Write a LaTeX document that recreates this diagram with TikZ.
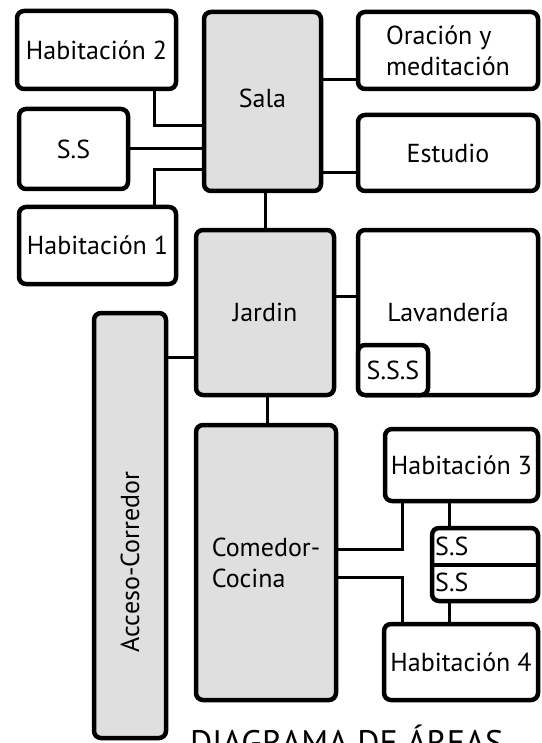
\documentclass[tikz,border=0pt]{standalone}
\usepackage{fontspec}
\setmainfont{PT Sans}
\usepackage{tikz}

\begin{document}
\begin{tikzpicture}[
  x=1pt, y=-1pt,
  room/.style={draw, line width=4.5pt, rounded corners=7pt, fill=white, outer sep=0pt, inner sep=0pt, align=center, font=\fontsize{26}{31}\selectfont},
  zone/.style={room, fill=gray!25},
  tag/.style={inner sep=1pt, font=\fontsize{26}{31}\selectfont},
  link/.style={line width=3pt}
]
\useasboundingbox (0,0) rectangle (541,743);

% --- Zona de estar (arriba) ---
\node[zone, minimum width=117pt, minimum height=179pt] (sala) at (262.5,101.5) {\raisebox{7pt}{Sala}};
\node[room, minimum width=159pt, minimum height=78pt] (hab2) at (96.5,50) {Habitación 2};
\node[room, minimum width=109pt, minimum height=80pt] (ssa) at (73.5,149) {S.S};
\node[room, minimum width=157pt, minimum height=77pt] (hab1) at (97.5,245.5) {Habitación 1};
\node[room, minimum width=180pt, minimum height=77pt, align=left] (orac) at (448,50.5) {Oración y\\meditación};
\node[room, minimum width=180pt, minimum height=76pt] (estu) at (448,153) {Estudio};

% --- Jardin y lavanderia ---
\node[zone, minimum width=138pt, minimum height=165pt] (jard) at (265,312.5) {Jardin};
\node[room, minimum width=180pt, minimum height=165pt] (lav) at (448,312.5) {Lavandería};
\node[room, minimum width=70pt, minimum height=50pt] (sss) at (393,370) {S.S.S};

% --- Acceso, comedor y habitaciones ---
\node[zone, minimum width=72pt, minimum height=425pt] (acc) at (130,525.5) {};
\node[tag, rotate=90] (acctxt) at (130,562) {Acceso-Corredor};
\node[zone, minimum width=140pt, minimum height=275pt, align=left] (come) at (266,562.5) {Comedor-\\Cocina};
\node[room, minimum width=153pt, minimum height=72pt] (hab3) at (461.5,465) {Habitación 3};
\node[room, minimum width=106pt, minimum height=73pt] (ssb) at (485,564.5) {};
\node[room, minimum width=154pt, minimum height=76pt] (hab4) at (461,662) {Habitación 4};
\draw[line width=4pt] (ssb.west) -- (ssb.east);
\node[tag, anchor=west] (ssb1) at ([xshift=2pt, yshift=18pt]ssb.west) {S.S};
\node[tag, anchor=west] (ssb2) at ([xshift=2pt, yshift=-18pt]ssb.west) {S.S};

% --- Conexiones ---
\draw[link] ([xshift=-22pt]hab2.south east) |- ([yshift=-24.5pt]sala.west);
\draw[link] (ssa.east) -- (ssa.east -| sala.west);
\draw[link] ([xshift=-22pt]hab1.north east) |- ([yshift=-68.5pt]sala.west);
\draw[link] ([yshift=-29.5pt]orac.west) -- ([yshift=-29.5pt]orac.west -| sala.east);
\draw[link] ([yshift=-20pt]estu.west) -- ([yshift=-20pt]estu.west -| sala.east);
\draw[link] (jard.north |- sala.south) -- (jard.north);
\draw[link] ([yshift=16.5pt]lav.west) -- ([yshift=16.5pt]lav.west -| jard.east);
\draw[link] ([yshift=-44.5pt]jard.west) -- ([yshift=-44.5pt]jard.west -| acc.east);
\draw[link] ([xshift=2pt]jard.south) -- ([xshift=2pt]jard.south |- come.north);
\draw[link] ([yshift=13.5pt]come.east) -| ([xshift=17pt]hab3.south west);
\draw[link] ([yshift=-14.5pt]come.east) -| ([xshift=18pt]hab4.north west);
\draw[link] ([xshift=17pt]ssb.north west) -- ([xshift=17pt]ssb.north west |- hab3.south);
\draw[link] ([xshift=17pt]ssb.south west) -- ([xshift=17pt]ssb.south west |- hab4.north);

% --- Titulo (cortado abajo) ---
\node[anchor=base west, inner sep=0pt, font=\fontsize{34}{38}\selectfont] (titulo) at (190,754) {DIAGRAMA DE ÁREAS};

\end{tikzpicture}
\end{document}
